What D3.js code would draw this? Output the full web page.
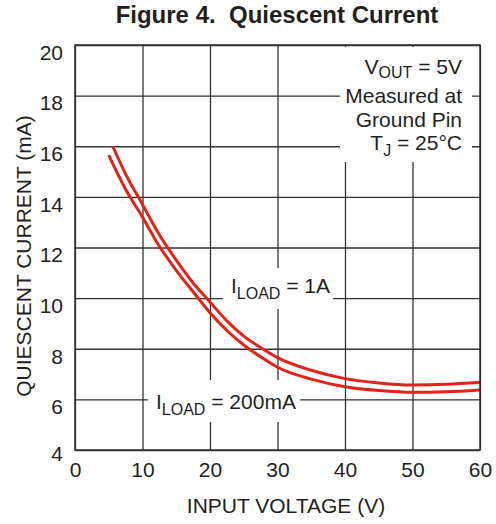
<!DOCTYPE html>
<html lang="en">
<head>
<meta charset="utf-8">
<title>Quiescent Current</title>
<script src="https://cdnjs.cloudflare.com/ajax/libs/d3/7.8.5/d3.min.js"></script>
<style>
  body { margin: 0; background: #fff; }
  text { font-family: "Liberation Sans", Arial, Helvetica, sans-serif; fill: #231f20; }
</style>
</head>
<body>
<script>
// data
var vin1A   = [5.6, 7.5, 10, 12.5, 15, 17.5, 20, 22.5, 25, 27.5, 30, 35, 40, 45, 50, 55, 60];
var iq1A    = [16.0, 14.9, 13.7, 12.5, 11.5, 10.6, 9.85, 9.1, 8.5, 8.05, 7.65, 7.15, 6.82, 6.65, 6.57, 6.6, 6.68];
var vin200  = [5.0, 7.5, 10, 12.5, 15, 17.5, 20, 22.5, 25, 27.5, 30, 35, 40, 45, 50, 55, 60];
var iq200   = [15.65, 14.3, 13.2, 12.05, 11.1, 10.25, 9.42, 8.72, 8.15, 7.68, 7.27, 6.8, 6.5, 6.35, 6.28, 6.3, 6.37];
var xTicks  = [0, 10, 20, 30, 40, 50, 60];
var yTicks  = [4, 6, 8, 10, 12, 14, 16, 18, 20];

var margin = {top: 45, left: 75},
    width = 405, height = 405;

var svg = d3.select("body").append("svg")
    .attr("width", 496)
    .attr("height", 524);

var x = d3.scaleLinear().domain([0, 60]).range([0, width]);
var y = d3.scaleLinear().domain([4, 20]).range([height, 0]);

var g = svg.append("g")
    .attr("transform", "translate(" + margin.left + "," + margin.top + ")");

// grid + tick labels
var gx = g.append("g")
    .attr("transform", "translate(0," + height + ")")
    .call(d3.axisBottom(x).tickValues(xTicks).tickSize(-height).tickSizeOuter(0).tickPadding(12));
var gy = g.append("g")
    .call(d3.axisLeft(y).tickValues(yTicks).tickSize(-width).tickSizeOuter(0).tickPadding(12));

[gx, gy].forEach(function(a) {
  a.select(".domain").remove();
  a.selectAll("line").attr("stroke", "#333").attr("stroke-width", 1.3);
  a.selectAll("text").attr("font-size", 21).attr("fill", "#231f20")
    .style("font-family", "'Liberation Sans', Arial, sans-serif");
});
gy.selectAll("text").attr("dy", function(d) { return d === 4 ? "0.52em" : "0.68em"; });

// white boxes behind labels (break the grid)
function box(x0, y0, x1, y1) {
  svg.append("rect").attr("x", x0).attr("y", y0)
    .attr("width", x1 - x0).attr("height", y1 - y0).attr("fill", "#fff");
}
box(340, 47, 472, 162);
box(223, 268, 333, 309);
box(148, 380, 300, 422);

// curves
var line = d3.line()
    .x(function(d) { return x(d[0]); })
    .y(function(d) { return y(d[1]); })
    .curve(d3.curveMonotoneX);

[[vin1A, iq1A], [vin200, iq200]].forEach(function(s) {
  var pts = d3.zip(s[0], s[1]);
  g.append("path")
    .attr("d", line(pts))
    .attr("fill", "none")
    .attr("stroke", "#e2231a")
    .attr("stroke-width", 3);
});

// frame
g.append("rect")
  .attr("width", width).attr("height", height)
  .attr("fill", "none").attr("stroke", "#333").attr("stroke-width", 1.5);

// title
svg.append("text")
  .attr("x", 277).attr("y", 23)
  .attr("text-anchor", "middle")
  .attr("font-size", 24).attr("font-weight", "bold")
  .style("white-space", "pre")
  .text("Figure 4.  Quiescent Current");

// axis titles
svg.append("text")
  .attr("x", 286).attr("y", 513)
  .attr("text-anchor", "middle")
  .attr("font-size", 21)
  .text("INPUT VOLTAGE (V)");

svg.append("text")
  .attr("transform", "translate(31,256) rotate(-90)")
  .attr("text-anchor", "middle")
  .attr("font-size", 21)
  .text("QUIESCENT CURRENT (mA)");

// labels with subscripts
function subLabel(px, py, anchor, main, sub, rest, shift) {
  var t = svg.append("text")
    .attr("x", px).attr("y", py)
    .attr("text-anchor", anchor)
    .attr("font-size", 21)
    .style("white-space", "pre");
  t.append("tspan").text(main);
  t.append("tspan").attr("font-size", 16).attr("dy", shift).text(sub);
  t.append("tspan").attr("dy", -shift).text(rest);
}

subLabel(462, 74, "end", "V", "OUT", " = 5V", 4);
svg.append("text").attr("x", 462).attr("y", 103).attr("text-anchor", "end")
  .attr("font-size", 21).text("Measured at");
svg.append("text").attr("x", 462).attr("y", 127).attr("text-anchor", "end")
  .attr("font-size", 21).text("Ground Pin");
subLabel(462, 150, "end", "T", "J", " = 25°C", 6);

subLabel(231, 293, "start", "I", "LOAD", " = 1A", 6);
subLabel(156, 409, "start", "I", "LOAD", " = 200mA", 6);
</script>
</body>
</html>
